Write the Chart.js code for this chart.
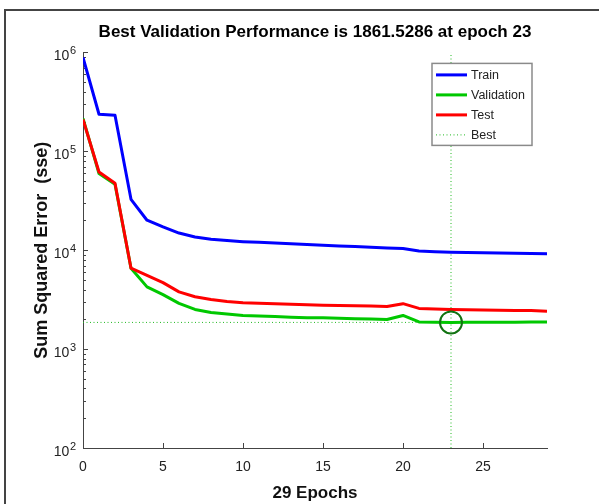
<!DOCTYPE html>
<html>
<head>
<meta charset="utf-8">
<script src="https://cdn.jsdelivr.net/npm/chart.js@4.4.0/dist/chart.umd.min.js"></script>
<style>
  html, body { margin: 0; padding: 0; background: #fff; }
  #wrap { position: relative; width: 599px; height: 504px; }
  #frame { position: absolute; left: 4px; top: 9px; right: 0; bottom: 0;
           border-left: 2px solid #444; border-top: 2px solid #444; pointer-events: none; }
</style>
</head>
<body>
<div id="wrap">
  <canvas id="chart" width="599" height="504"></canvas>
  <div id="frame"></div>
</div>
<script>
// values (sum squared error per epoch)
const epochs = [0, 1, 2, 3, 4, 5, 6, 7, 8, 9, 10, 11, 12, 13, 14, 15, 16, 17, 18, 19, 20, 21, 22, 23, 24, 25, 26, 27, 28, 29];
const trainSse = [8.9e5, 2.37e5, 2.31e5, 3.27e4, 2.01e4, 1.72e4, 1.49e4, 1.36e4, 1.29e4, 1.25e4,
  1.22e4, 1.2e4, 1.18e4, 1.16e4, 1.14e4, 1.125e4, 1.105e4, 1.09e4, 1.07e4, 1.055e4,
  1.04e4, 9840, 9660, 9550, 9480, 9410, 9350, 9300, 9260, 9220];
const validationSse = [2.15e5, 5.96e4, 4.64e4, 6580, 4260, 3550, 2900, 2520, 2350, 2260,
  2190, 2160, 2130, 2100, 2080, 2070, 2050, 2030, 2010, 1990,
  2190, 1880, 1870, 1861.5286, 1865, 1868, 1870, 1872, 1874, 1876];
const testSse = [2.1e5, 6.18e4, 4.75e4, 6580, 5580, 4700, 3790, 3380, 3180, 3030,
  2940, 2900, 2870, 2840, 2810, 2780, 2760, 2740, 2720, 2690,
  2880, 2580, 2550, 2520, 2500, 2490, 2470, 2460, 2450, 2420];
const bestEpoch = 23;
const bestPerf = 1861.5286;
const xTicks = [0, 5, 10, 15, 20, 25];
const yTicks = [1e2, 1e3, 1e4, 1e5, 1e6];
const xMax = 29;

const FONT = '"Liberation Sans", Arial, Helvetica, sans-serif';
Chart.defaults.font.family = FONT;

const pts = arr => epochs.map((e, i) => ({ x: e, y: arr[i] }));

// MATLAB style tick marks pointing into the plot, plus 10^n labels with a raised exponent
const insideTicks = {
  id: 'insideTicks',
  beforeDatasetsDraw(chart) {
    const { ctx, chartArea: a, scales: { x, y } } = chart;
    ctx.save();
    ctx.strokeStyle = '#444';
    ctx.lineWidth = 1;
    ctx.beginPath();
    xTicks.forEach(v => {
      const px = Math.round(x.getPixelForValue(v)) + 0.5;
      ctx.moveTo(px, a.bottom); ctx.lineTo(px, a.bottom - 5);
    });
    const lo = Math.log10(yTicks[0]), hi = Math.log10(yTicks[yTicks.length - 1]);
    for (let e = lo; e <= hi; e++) {
      for (let k = 1; k <= 9; k++) {
        if (e === hi && k > 1) break;
        const py = Math.round(y.getPixelForValue(k * Math.pow(10, e))) + 0.5;
        ctx.moveTo(a.left, py); ctx.lineTo(a.left + (k === 1 ? 5 : 3), py);
      }
    }
    ctx.stroke();

    ctx.fillStyle = '#222';
    ctx.textBaseline = 'alphabetic';
    yTicks.forEach(v => {
      const py = y.getPixelForValue(v);
      const exp = String(Math.round(Math.log10(v)));
      ctx.font = '11px ' + FONT;
      const expW = ctx.measureText(exp).width;
      const expX = a.left - 7 - expW;
      ctx.textAlign = 'left';
      ctx.fillText(exp, expX, py + 2);
      ctx.font = '14px ' + FONT;
      ctx.textAlign = 'right';
      ctx.fillText('10', expX - 0.5, py + 8);
    });
    ctx.restore();
  }
};

// boxed legend in the upper right of the axes
const boxLegend = {
  id: 'boxLegend',
  afterDraw(chart) {
    const { ctx, chartArea: a } = chart;
    const x0 = a.right - 115, y0 = a.top + 11, w = 100, h = 82;
    ctx.save();
    ctx.fillStyle = '#fff';
    ctx.fillRect(x0, y0, w, h);
    ctx.strokeStyle = '#8a8a8a';
    ctx.lineWidth = 1.5;
    ctx.strokeRect(x0, y0, w, h);
    chart.data.datasets.filter(d => d.inLegend).forEach((d, i) => {
      const yy = y0 + 11.5 + i * 20;
      ctx.strokeStyle = d.borderColor;
      ctx.lineWidth = d.borderWidth;
      ctx.setLineDash(d.borderDash || []);
      ctx.beginPath();
      ctx.moveTo(x0 + 4, yy); ctx.lineTo(x0 + 35, yy);
      ctx.stroke();
      ctx.setLineDash([]);
      ctx.fillStyle = '#222';
      ctx.font = '12.5px ' + FONT;
      ctx.textBaseline = 'middle';
      ctx.fillText(d.label, x0 + 39, yy + 1);
    });
    ctx.restore();
  }
};

const line = (label, data, color, order) => ({
  label, data: pts(data), borderColor: color, borderWidth: 3, pointRadius: 0,
  tension: 0, borderJoinStyle: 'round', order, inLegend: true
});

new Chart(document.getElementById('chart').getContext('2d'), {
  type: 'line',
  data: {
    datasets: [
      line('Train', trainSse, '#0000ff', 3),
      line('Validation', validationSse, '#00c800', 2),
      line('Test', testSse, '#ff0000', 1),
      { label: 'Best', data: [{ x: bestEpoch, y: yTicks[0] }, { x: bestEpoch, y: yTicks[yTicks.length - 1] }],
        borderColor: '#22b822', borderWidth: 1, borderDash: [1, 2.5], pointRadius: 0, order: 4, inLegend: true },
      { label: 'Best level', data: [{ x: epochs[0], y: bestPerf }, { x: xMax, y: bestPerf }],
        borderColor: '#22b822', borderWidth: 1, borderDash: [1, 2.5], pointRadius: 0, order: 4 },
      { label: 'Best point', data: [{ x: bestEpoch, y: bestPerf }], showLine: false,
        pointRadius: 11, pointBorderWidth: 2, pointBorderColor: '#127312',
        pointBackgroundColor: 'rgba(0,0,0,0)', order: 0 }
    ]
  },
  options: {
    responsive: false,
    animation: false,
    layout: { padding: { left: 0, right: 52, top: 0, bottom: 0 } },
    plugins: {
      legend: { display: false },
      tooltip: { enabled: false },
      title: {
        display: true,
        text: 'Best Validation Performance is 1861.5286 at epoch 23',
        fullSize: false,
        color: '#000',
        font: { size: 17, weight: 'bold' },
        padding: { top: 22, bottom: 10 }
      }
    },
    scales: {
      x: {
        type: 'linear', min: 0, max: xMax,
        afterBuildTicks: s => { s.ticks = xTicks.map(v => ({ value: v })); },
        afterFit: s => { s.height = 56; },
        grid: { display: false, drawTicks: false },
        border: { display: true, color: '#444', width: 1 },
        ticks: { color: '#222', font: { size: 14 }, padding: 11, maxRotation: 0 },
        title: { display: true, text: '29 Epochs', color: '#111', font: { size: 17, weight: 'bold' },
                 padding: { top: 0, bottom: 0 } }
      },
      y: {
        type: 'logarithmic', min: yTicks[0], max: yTicks[yTicks.length - 1],
        afterBuildTicks: s => { s.ticks = yTicks.map(v => ({ value: v })); },
        afterFit: s => { s.width = 83; },
        grid: { display: false, drawTicks: false },
        border: { display: true, color: '#444', width: 1 },
        ticks: { display: false },
        title: { display: true, text: 'Sum Squared Error  (sse)', color: '#111',
                 font: { size: 18, weight: 'bold' }, padding: { top: 31 } }
      }
    }
  },
  plugins: [insideTicks, boxLegend]
});
</script>
</body>
</html>
